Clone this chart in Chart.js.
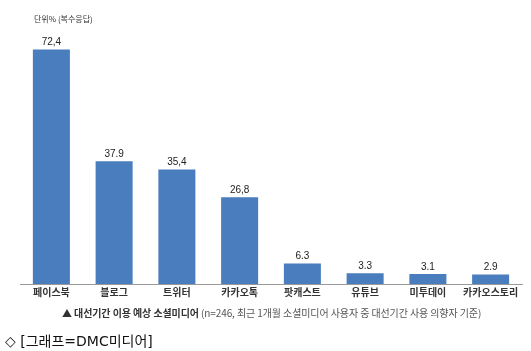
<!DOCTYPE html>
<html><head><meta charset="utf-8">
<script src="https://cdn.jsdelivr.net/npm/chart.js@4"></script>
<style>
html,body{margin:0;padding:0;background:#fff;}
#wrap{position:relative;width:531px;height:351px;overflow:hidden;}
#c{position:absolute;left:0;top:0;}
.t{position:absolute;white-space:nowrap;font-family:"Noto Sans CJK KR",sans-serif;}
#unit{left:34px;top:13px;font-size:8px;color:#333;}
#cap{left:62px;top:305px;font-size:10px;color:#555;letter-spacing:-0.1px;}
#cap b{color:#333;}
#src{left:5px;top:330px;font-size:14px;color:#111;font-family:"DejaVu Sans","Noto Sans CJK KR",sans-serif;}
</style></head><body>
<div id="wrap">
<canvas id="c" width="531" height="351"></canvas>
<div class="t" id="unit">단위% (복수응답)</div>
<div class="t" id="cap"><b>▲ 대선기간 이용 예상 소셜미디어</b> (n=246, 최근 1개월 소셜미디어 사용자 중 대선기간 사용 의향자 기준)</div>
<div class="t" id="src">◇ [그래프=DMC미디어]</div>
</div>
<script>
const categories = ['페이스북','블로그','트위터','카카오톡','팟캐스트','유튜브','미투데이','카카오스토리'];
const values = [72.4, 37.9, 35.4, 26.8, 6.3, 3.3, 3.1, 2.9];
const valueLabels = ['72,4','37.9','35,4','26,8','6.3','3.3','3.1','2.9'];

const labelPlugin = {
  id: 'valueLabels',
  afterDatasetsDraw(chart) {
    const ctx = chart.ctx;
    const meta = chart.getDatasetMeta(0);
    ctx.save();
    ctx.font = '10px "Liberation Sans", Arial, sans-serif';
    ctx.fillStyle = '#222';
    ctx.textAlign = 'center';
    ctx.textBaseline = 'bottom';
    meta.data.forEach((bar, i) => {
      ctx.fillText(valueLabels[i], bar.x, bar.y - 2);
    });
    ctx.restore();
  }
};

new Chart(document.getElementById('c'), {
  type: 'bar',
  data: {
    labels: categories,
    datasets: [{
      data: values,
      backgroundColor: '#4a7dbd',
      borderWidth: 0,
      categoryPercentage: 1,
      barPercentage: 0.59
    }]
  },
  options: {
    responsive: false,
    animation: false,
    devicePixelRatio: 1,
    layout: { padding: { left: 20, right: 9, top: 25, bottom: 51 } },
    plugins: { legend: { display: false }, tooltip: { enabled: false } },
    scales: {
      x: {
        grid: { display: false, drawTicks: false },
        border: { display: true, color: '#9a9a9a', width: 1 },
        ticks: {
          color: '#333',
          padding: 2,
          maxRotation: 0,
          autoSkip: false,
          font: { family: '"Noto Sans CJK KR", sans-serif', size: 10, weight: 'bold' }
        }
      },
      y: {
        display: false,
        min: 0,
        max: 80
      }
    }
  },
  plugins: [labelPlugin]
});
</script>
</body></html>
